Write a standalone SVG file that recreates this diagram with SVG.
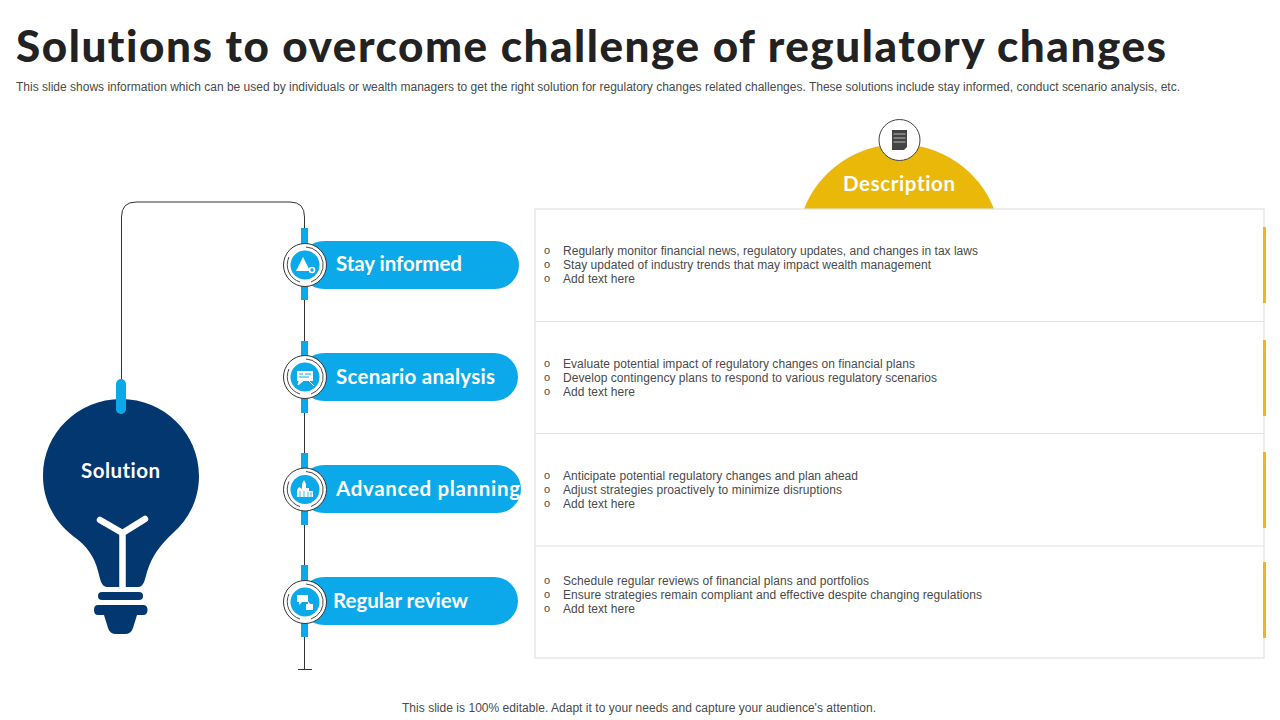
<svg xmlns="http://www.w3.org/2000/svg" width="1280" height="720" viewBox="0 0 1280 720">
<style>
text{font-variant-ligatures:none}
.h{font-family:"Lato","Liberation Sans",sans-serif;font-weight:700;fill:#fff;font-size:20.5px}
.t{font-family:"Liberation Sans",Arial,sans-serif;font-size:12px;fill:#4a4a4a}
.o{font-family:"Liberation Sans",Arial,sans-serif;font-size:11px;fill:#4a4a4a}
.pill{fill:#0ca9ea}
.tab{fill:#0ca9ea}
.ring{fill:#fff;stroke:#333;stroke-width:1}
.arc{fill:none;stroke:#333;stroke-width:.9}
.core{fill:#0ca9ea}
.ic{fill:#fff}
.rule{stroke:#e2e2e2;stroke-width:1.2;fill:none}
.mark{fill:#eab824}
</style>
<rect width="1280" height="720" fill="#fff"/>
<text id="title" x="16" y="62" textLength="1150" lengthAdjust="spacing" style="font-family:'Lato','Liberation Sans',sans-serif;font-weight:900;font-size:44px;fill:#222">Solutions to overcome challenge of regulatory changes</text>
<text id="subtitle" x="16" y="91" textLength="1164" lengthAdjust="spacing" class="t">This slide shows information which can be used by individuals or wealth managers to get the right solution for regulatory changes related challenges. These solutions include stay informed, conduct scenario analysis, etc.</text>

<g id="connectors">
<path d="M121.5 382V217Q121.500 202 136 202H290Q304.500 202 304.500 217V669" fill="none" stroke="#333" stroke-width="1"/>
<path d="M298 669.500H312" stroke="#333" stroke-width="1"/>
</g>

<g id="description-head">
<path d="M804 209A102 102 0 0 1 994 209Z" fill="#eab808"/>
<circle cx="899.500" cy="140" r="20.500" fill="#fff" stroke="#444" stroke-width="1"/>
<path d="M892 130H907V147L904 150H892Z" fill="#444"/>
<path d="M893.500 134H905.500M893.500 138H905.500M893.500 142H905.500" stroke="#bbb" stroke-width="1"/>
<text x="899" y="191" text-anchor="middle" class="h" textLength="112" lengthAdjust="spacing">Description</text>
</g>

<g id="table">
<rect x="535" y="209" width="729" height="449" class="rule"/>
<path d="M535 321.500H1264M535 433.500H1264M535 546H1264" class="rule"/>
<rect x="1263" y="227" width="3" height="76" class="mark"/>
<rect x="1263" y="340" width="3" height="76" class="mark"/>
<rect x="1263" y="452" width="3" height="76" class="mark"/>
<rect x="1263" y="562" width="3" height="76" class="mark"/>
</g>

<g id="solution">
<path d="M121 399C164 399 199 433 199 476C199 499 189 519 173 533C160 545 152 556 147 572C145 579 144 587 138 587H107C101 587 100 578 98 571C94 556 87 546 73 536C55 522 43 501 43 476C43 433 78 399 121 399Z" fill="#03376f"/>
<path d="M100 520L122.500 533L145 519M122.500 533V587" fill="none" stroke="#fff" stroke-width="6.500" stroke-linecap="round" stroke-linejoin="round"/>
<rect x="98" y="592" width="45" height="8" rx="4" fill="#03376f"/>
<path d="M98 605H143Q147.500 605 147.500 610Q147.500 615 143 615H137L133 628Q131 634 125 634H116Q110 634 108 628L104 615H98Q94 615 94 610Q94 605 98 605Z" fill="#03376f"/>
<rect x="116" y="379" width="10" height="35" rx="5" fill="#0ca9ea"/>
<text x="120.500" y="478" text-anchor="middle" class="h" textLength="79" lengthAdjust="spacing">Solution</text>
</g>

<g id="stay-informed">
<rect x="301" y="228" width="7" height="72" class="tab"/>
<rect x="300" y="241" width="219" height="48" rx="24" class="pill"/>
<circle cx="305" cy="265" r="21.500" class="ring"/>
<path d="M306 247A18 18 0 0 1 311 282M300 282A18 18 0 0 1 289 257" class="arc"/>
<circle cx="305" cy="265" r="14.500" class="core"/>
<path d="M303 257L310 271H296Z" class="ic"/>
<circle cx="312" cy="270" r="2.500" fill="none" stroke="#fff" stroke-width="1.600"/>
<text x="336" y="271" class="h" textLength="126" lengthAdjust="spacing">Stay informed</text>
</g>

<g id="scenario-analysis">
<rect x="301" y="341" width="7" height="72" class="tab"/>
<rect x="300" y="353" width="218" height="48" rx="24" class="pill"/>
<circle cx="305" cy="377" r="21.500" class="ring"/>
<path d="M306 359A18 18 0 0 1 311 394M300 394A18 18 0 0 1 289 369" class="arc"/>
<circle cx="305" cy="377" r="14.500" class="core"/>
<rect x="297" y="371" width="16" height="10" class="ic"/>
<path d="M299 381L298 385L303 381ZM309 381L314 386" fill="#fff" stroke="#fff" stroke-width="1"/>
<path d="M299 374H303M305 374H311M299 377H309" stroke="#0ca9ea" stroke-width="1"/>
<text x="336" y="384" class="h" textLength="159" lengthAdjust="spacing">Scenario analysis</text>
</g>

<g id="advanced-planning">
<rect x="301" y="453" width="7" height="72" class="tab"/>
<rect x="300" y="465" width="221" height="48" rx="24" class="pill"/>
<circle cx="305" cy="489.500" r="21.500" class="ring"/>
<path d="M306 471.500A18 18 0 0 1 311 506.500M300 506.500A18 18 0 0 1 289 481.500" class="arc"/>
<circle cx="305" cy="489.500" r="14.500" class="core"/>
<path d="M297 497V490L299 487L302 489V484L304 480L306 484V488H309V491H313V497Z" class="ic"/>
<path d="M300 491V497M304 491V497M308 492V497M311 492V497" stroke="#0ca9ea" stroke-width=".8"/>
<text x="336" y="496" class="h" textLength="184" lengthAdjust="spacing">Advanced planning</text>
</g>

<g id="regular-review">
<rect x="301" y="565" width="7" height="72" class="tab"/>
<rect x="300" y="577" width="218" height="48" rx="24" class="pill"/>
<circle cx="305" cy="602" r="21.500" class="ring"/>
<path d="M306 584A18 18 0 0 1 311 619M300 619A18 18 0 0 1 289 594" class="arc"/>
<circle cx="305" cy="602" r="14.500" class="core"/>
<path d="M297 595H308V602H302L299 605V602H297Z" class="ic"/>
<path d="M306 604H308V601L310 604H313V610H306Z" class="ic"/>
<text x="333" y="608" class="h" textLength="135" lengthAdjust="spacing">Regular review</text>
</g>

<g id="row-1">
<text x="544" y="254" class="o">o</text><text x="544" y="268" class="o">o</text><text x="544" y="282" class="o">o</text>
<text x="563" y="255" class="t" textLength="415" lengthAdjust="spacing">Regularly monitor financial news, regulatory updates, and changes in tax laws</text>
<text x="563" y="269" class="t" textLength="368" lengthAdjust="spacing">Stay updated of industry trends that may impact wealth management</text>
<text x="563" y="283" class="t" textLength="72" lengthAdjust="spacing">Add text here</text>
</g>
<g id="row-2">
<text x="544" y="367" class="o">o</text><text x="544" y="381" class="o">o</text><text x="544" y="395" class="o">o</text>
<text x="563" y="368" class="t" textLength="352" lengthAdjust="spacing">Evaluate potential impact of regulatory changes on financial plans</text>
<text x="563" y="382" class="t" textLength="374" lengthAdjust="spacing">Develop contingency plans to respond to various regulatory scenarios</text>
<text x="563" y="396" class="t" textLength="72" lengthAdjust="spacing">Add text here</text>
</g>
<g id="row-3">
<text x="544" y="479" class="o">o</text><text x="544" y="493" class="o">o</text><text x="544" y="507" class="o">o</text>
<text x="563" y="480" class="t" textLength="295" lengthAdjust="spacing">Anticipate potential regulatory changes and plan ahead</text>
<text x="563" y="494" class="t" textLength="279" lengthAdjust="spacing">Adjust strategies proactively to minimize disruptions</text>
<text x="563" y="508" class="t" textLength="72" lengthAdjust="spacing">Add text here</text>
</g>
<g id="row-4">
<text x="544" y="584" class="o">o</text><text x="544" y="598" class="o">o</text><text x="544" y="612" class="o">o</text>
<text x="563" y="585" class="t" textLength="306" lengthAdjust="spacing">Schedule regular reviews of financial plans and portfolios</text>
<text x="563" y="599" class="t" textLength="419" lengthAdjust="spacing">Ensure strategies remain compliant and effective despite changing regulations</text>
<text x="563" y="613" class="t" textLength="72" lengthAdjust="spacing">Add text here</text>
</g>
<text id="footer" x="402" y="712" class="t" textLength="474" lengthAdjust="spacing">This slide is 100% editable. Adapt it to your needs and capture your audience's attention.</text>
</svg>
